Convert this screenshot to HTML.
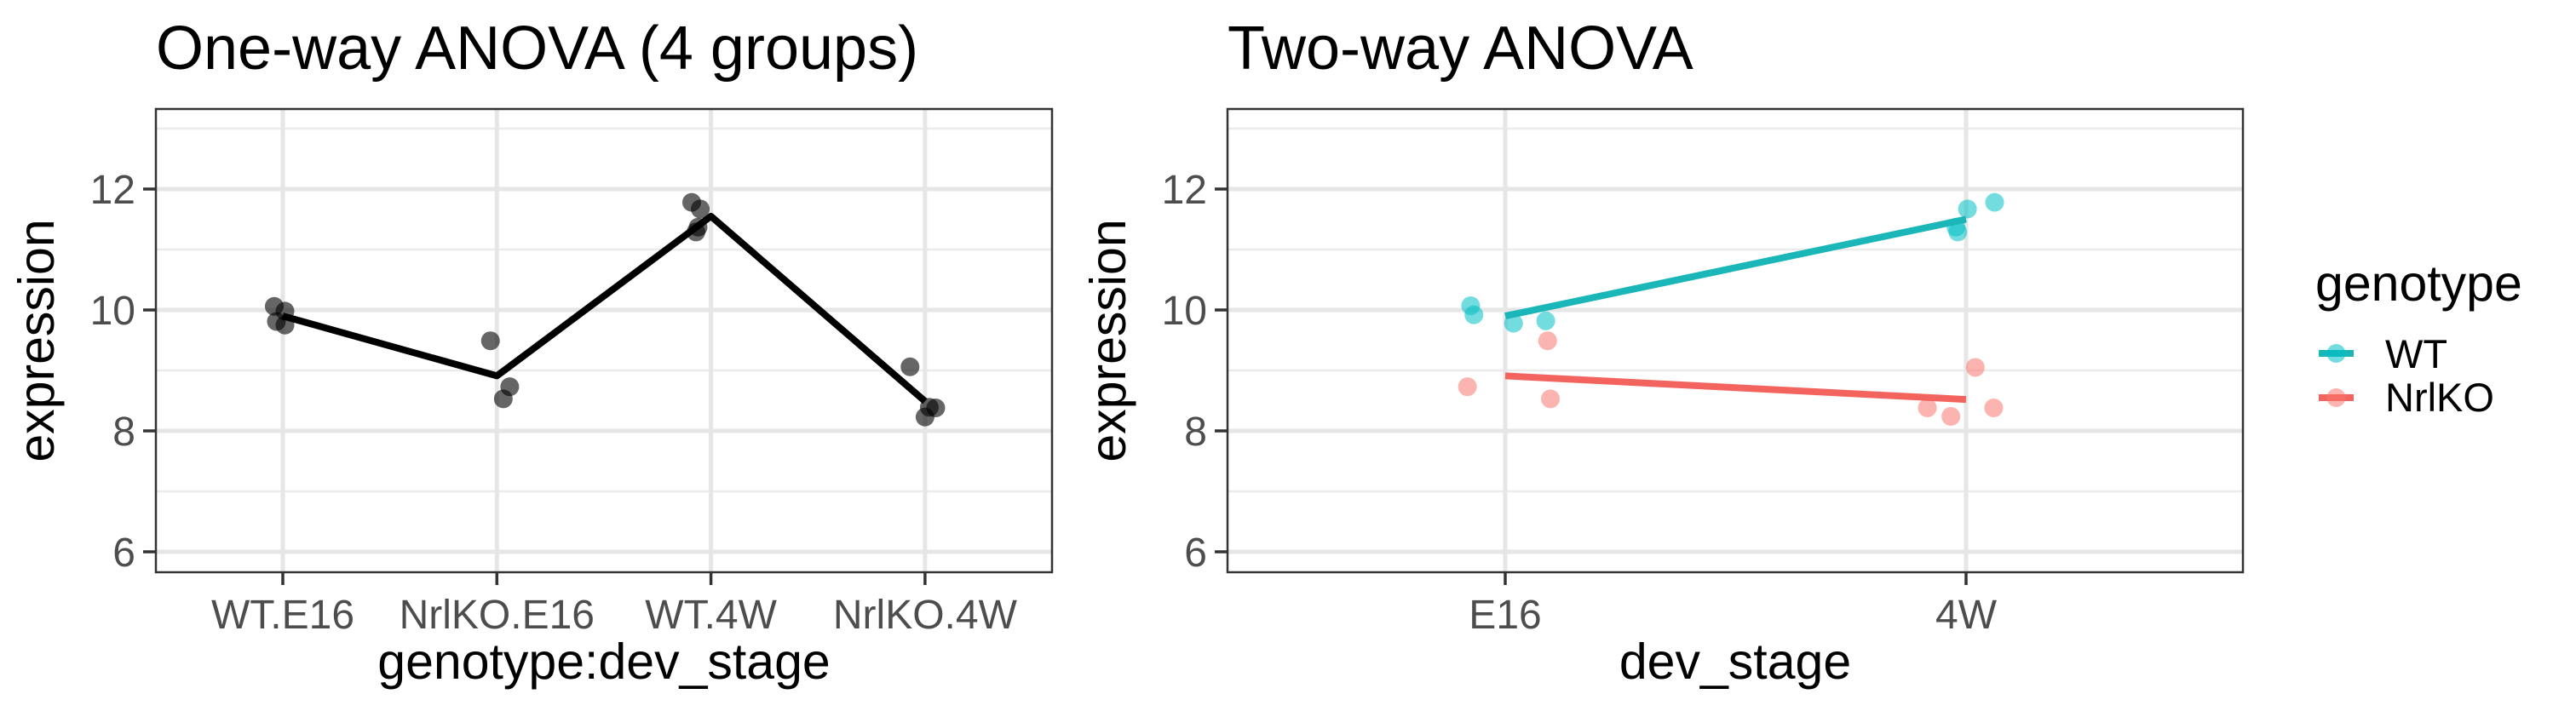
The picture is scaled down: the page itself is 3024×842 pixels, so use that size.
<!DOCTYPE html>
<html><head><meta charset="utf-8"><style>
html,body{margin:0;padding:0;background:#fff;}
svg{display:block;font-family:"Liberation Sans",sans-serif;}
</style></head><body>
<svg id="chart" width="3024" height="842" viewBox="0 0 3024 842" xmlns="http://www.w3.org/2000/svg"></svg>
<script>
// ---- data ----
const groups1 = ["WT.E16","NrlKO.E16","WT.4W","NrlKO.4W"];
const pts1Group = [0,0,0,0, 1,1,1, 2,2,2,2, 3,3,3,3];
const pts1Val = [10.06,9.98,9.81,9.75, 9.49,8.73,8.53, 11.78,11.67,11.37,11.29, 9.06,8.38,8.23,8.39];
const pts1Jit = [-0.04,0.01,-0.03,0.01, -0.03,0.06,0.03, -0.09,-0.05,-0.06,-0.07, -0.07,0.05,0.00,0.02];
const means1 = [9.9,8.91,11.55,8.49];

const stages = ["E16","4W"];
const genotypes = ["WT","NrlKO"];
const wtStage = [0,0,0,0, 1,1,1,1];
const wtVal = [10.07,9.92,9.78,9.82, 11.78,11.67,11.37,11.29];
const wtJit = [-0.075,-0.068,0.018,0.088, 0.062,0.003,-0.022,-0.018];
const koStage = [0,0,0, 1,1,1,1];
const koVal = [9.49,8.73,8.53, 9.05,8.38,8.24,8.38];
const koJit = [0.092,-0.082,0.098, 0.020,-0.084,-0.033,0.060];
const wtMeans = [9.9,11.5];
const koMeans = [8.91,8.52];
const yTicks = [6,8,10,12];
const yMinor = [7,9,11,13];

const NS="http://www.w3.org/2000/svg";
const svg=document.getElementById('chart');
function mk(tag,attrs,parent){const e=document.createElementNS(NS,tag);for(const k in attrs)e.setAttribute(k,attrs[k]);(parent||svg).appendChild(e);return e;}

const yTop=128,yBot=672;
function yS(v){return 364-(v-10)*71;}
const P1={l:183,r:1235}, P2={l:1441,r:2633};
function x1(i){return 332+i*251.3;}
function x2(i){return 1767+i*541;}
const TEAL="#1AB6B8", RED="#F4645E";
const TEALP="#00BFC4", REDP="#F8766D";

function panel(P,xs,cats,name,xTitle,xTitleX,title){
  const g=mk('g',{});
  
  
  yMinor.forEach(v=>{const l=mk('line',{x1:P.l,x2:P.r,y1:yS(v),y2:yS(v),stroke:'#ebebeb','stroke-width':2.5},g);
    });
  yTicks.forEach(v=>{const l=mk('line',{x1:P.l,x2:P.r,y1:yS(v),y2:yS(v),stroke:'#e6e6e6','stroke-width':5},g);
    });
  cats.forEach((c,i)=>{const l=mk('line',{x1:xs(i),x2:xs(i),y1:yTop,y2:yBot,stroke:'#e6e6e6','stroke-width':5},g);
    });
  yTicks.forEach(v=>{
    const t=mk('line',{x1:P.l-15,x2:P.l,y1:yS(v),y2:yS(v),stroke:'#333','stroke-width':3.5},g);
    
    const tx=mk('text',{x:P.l-24,y:yS(v)+17,'text-anchor':'end','font-size':48,fill:'#4d4d4d'},g);
    tx.textContent=v;
    
  });
  cats.forEach((c,i)=>{
    const t=mk('line',{x1:xs(i),x2:xs(i),y1:yBot,y2:yBot+15,stroke:'#333','stroke-width':3.5},g);
    
    const tx=mk('text',{x:xs(i),y:738,'text-anchor':'middle','font-size':48,fill:'#4d4d4d'},g);
    tx.textContent=c;
    
  });
  const yt=mk('text',{x:0,y:0,transform:`translate(${P.l-120},${(yTop+yBot)/2}) rotate(-90)`,'text-anchor':'middle','font-size':59,fill:'#000'},g);
  yt.textContent='expression';
  
  const xt=mk('text',{x:xTitleX,y:797,'text-anchor':'middle','font-size':59,fill:'#000'},g);
  xt.textContent=xTitle;
  
  const tt=mk('text',{x:P.l,y:81,'font-size':72,fill:'#000'},g);
  tt.textContent=title;
  
  return g;
}

const g1=panel(P1,x1,groups1,'one-way-panel','genotype:dev_stage',(P1.l+P1.r)/2,'One-way ANOVA (4 groups)');
const g2=panel(P2,x2,stages,'two-way-panel','dev_stage',(P2.l+P2.r)/2,'Two-way ANOVA');

pts1Val.forEach((v,i)=>{
  const c=mk('circle',{cx:x1(pts1Group[i]+pts1Jit[i]),cy:yS(v),r:11,fill:'#000','fill-opacity':0.6},g1);
  
});
const ml=mk('polyline',{points:means1.map((m,i)=>x1(i)+','+yS(m)).join(' '),fill:'none',stroke:'#000','stroke-width':8,'stroke-linejoin':'round'},g1);


function series(vals,st,jit,col,name){
  vals.forEach((v,i)=>{
    const c=mk('circle',{cx:x2(st[i]+jit[i]),cy:yS(v),r:11,fill:col,'fill-opacity':0.55},g2);
    
  });
}
series(wtVal,wtStage,wtJit,TEALP,'wt');
series(koVal,koStage,koJit,REDP,'nrlko');
const wl=mk('polyline',{points:wtMeans.map((m,i)=>x2(i)+','+yS(m)).join(' '),fill:'none',stroke:TEAL,'stroke-width':8},g2);

const kl=mk('polyline',{points:koMeans.map((m,i)=>x2(i)+','+yS(m)).join(' '),fill:'none',stroke:RED,'stroke-width':8},g2);


[P1,P2].forEach(P=>{const b=mk('rect',{x:P.l,y:yTop,width:P.r-P.l,height:yBot-yTop,fill:'none',stroke:'#333','stroke-width':2.5});
  });

const lg=mk('g',{});


const lt=mk('text',{x:2718,y:353,'font-size':59,fill:'#000'},lg);
lt.textContent='genotype';

const cols=[TEAL,RED], pcols=[TEALP,REDP], ly=[415,467], lby=[432,483];
genotypes.forEach((gname,i)=>{
  const e=mk('g',{},lg);
  
  
  mk('line',{x1:2722,x2:2763,y1:ly[i],y2:ly[i],stroke:cols[i],'stroke-width':8},e);
  mk('circle',{cx:2742.5,cy:ly[i],r:11,fill:pcols[i],'fill-opacity':0.55},e);
  const t=mk('text',{x:2800,y:lby[i],'font-size':47,fill:'#000'},e);
  t.textContent=gname;
});
</script>
</body></html>
